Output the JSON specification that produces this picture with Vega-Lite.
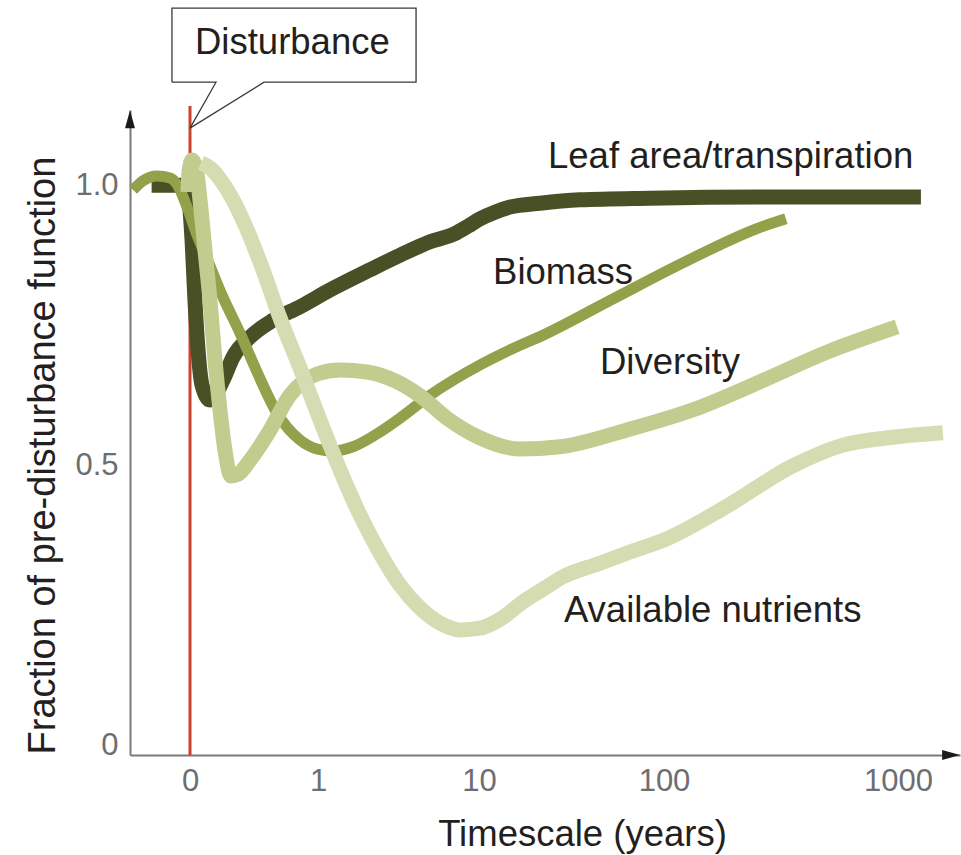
{
  "$schema": "https://vega.github.io/schema/vega-lite/v6.json",
  "width": 830,
  "height": 645,
  "autosize": {"type": "none"},
  "padding": {"left": 130, "top": 110, "right": 1, "bottom": 100},
  "background": "white",
  "config": {"view": {"stroke": null}, "font": "Liberation Sans"},
  "datasets": {
    "curves": [
      {"s": "leaf", "t": -0.3, "v": 0.996}, {"s": "leaf", "t": -0.078, "v": 0.996}, {"s": "leaf", "t": -0.016, "v": 0.979}, {"s": "leaf", "t": 0.016, "v": 0.898}, {"s": "leaf", "t": 0.039, "v": 0.789}, {"s": "leaf", "t": 0.063, "v": 0.702}, {"s": "leaf", "t": 0.094, "v": 0.639}, {"s": "leaf", "t": 0.156, "v": 0.6125}, {"s": "leaf", "t": 0.258, "v": 0.648}, {"s": "leaf", "t": 0.336, "v": 0.689}, {"s": "leaf", "t": 0.469, "v": 0.725}, {"s": "leaf", "t": 0.648, "v": 0.755}, {"s": "leaf", "t": 0.859, "v": 0.779}, {"s": "leaf", "t": 1.075, "v": 0.809}, {"s": "leaf", "t": 1.323, "v": 0.845}, {"s": "leaf", "t": 1.509, "v": 0.871}, {"s": "leaf", "t": 1.696, "v": 0.895}, {"s": "leaf", "t": 1.845, "v": 0.909}, {"s": "leaf", "t": 1.932, "v": 0.923}, {"s": "leaf", "t": 2.005, "v": 0.936}, {"s": "leaf", "t": 2.086, "v": 0.948}, {"s": "leaf", "t": 2.168, "v": 0.957}, {"s": "leaf", "t": 2.33, "v": 0.964}, {"s": "leaf", "t": 2.546, "v": 0.97}, {"s": "leaf", "t": 2.924, "v": 0.973}, {"s": "leaf", "t": 3.41, "v": 0.975}, {"s": "leaf", "t": 4.098, "v": 0.975},
      {"s": "biomass", "t": -0.445, "v": 0.9875}, {"s": "biomass", "t": -0.367, "v": 1.004}, {"s": "biomass", "t": -0.258, "v": 1.0125}, {"s": "biomass", "t": -0.156, "v": 1.009}, {"s": "biomass", "t": -0.094, "v": 0.995}, {"s": "biomass", "t": -0.023, "v": 0.957}, {"s": "biomass", "t": 0.055, "v": 0.907}, {"s": "biomass", "t": 0.156, "v": 0.852}, {"s": "biomass", "t": 0.25, "v": 0.8}, {"s": "biomass", "t": 0.391, "v": 0.732}, {"s": "biomass", "t": 0.523, "v": 0.663}, {"s": "biomass", "t": 0.68, "v": 0.589}, {"s": "biomass", "t": 0.859, "v": 0.541}, {"s": "biomass", "t": 0.992, "v": 0.525}, {"s": "biomass", "t": 1.093, "v": 0.521}, {"s": "biomass", "t": 1.217, "v": 0.529}, {"s": "biomass", "t": 1.366, "v": 0.552}, {"s": "biomass", "t": 1.509, "v": 0.58}, {"s": "biomass", "t": 1.696, "v": 0.621}, {"s": "biomass", "t": 2.005, "v": 0.675}, {"s": "biomass", "t": 2.168, "v": 0.702}, {"s": "biomass", "t": 2.351, "v": 0.729}, {"s": "biomass", "t": 2.735, "v": 0.795}, {"s": "biomass", "t": 3.098, "v": 0.861}, {"s": "biomass", "t": 3.406, "v": 0.92}, {"s": "biomass", "t": 3.521, "v": 0.936},
      {"s": "diversity", "t": -0.016, "v": 0.984}, {"s": "diversity", "t": -0.008, "v": 1.02}, {"s": "diversity", "t": 0.016, "v": 1.041}, {"s": "diversity", "t": 0.047, "v": 1.027}, {"s": "diversity", "t": 0.078, "v": 0.97}, {"s": "diversity", "t": 0.117, "v": 0.88}, {"s": "diversity", "t": 0.156, "v": 0.791}, {"s": "diversity", "t": 0.195, "v": 0.684}, {"s": "diversity", "t": 0.234, "v": 0.595}, {"s": "diversity", "t": 0.273, "v": 0.523}, {"s": "diversity", "t": 0.32, "v": 0.477}, {"s": "diversity", "t": 0.375, "v": 0.48}, {"s": "diversity", "t": 0.469, "v": 0.505}, {"s": "diversity", "t": 0.602, "v": 0.55}, {"s": "diversity", "t": 0.781, "v": 0.621}, {"s": "diversity", "t": 0.992, "v": 0.659}, {"s": "diversity", "t": 1.137, "v": 0.666}, {"s": "diversity", "t": 1.304, "v": 0.6625}, {"s": "diversity", "t": 1.491, "v": 0.645}, {"s": "diversity", "t": 1.634, "v": 0.62}, {"s": "diversity", "t": 1.801, "v": 0.58}, {"s": "diversity", "t": 2.005, "v": 0.545}, {"s": "diversity", "t": 2.222, "v": 0.525}, {"s": "diversity", "t": 2.438, "v": 0.529}, {"s": "diversity", "t": 2.8, "v": 0.559}, {"s": "diversity", "t": 3.124, "v": 0.595}, {"s": "diversity", "t": 3.41, "v": 0.645}, {"s": "diversity", "t": 3.697, "v": 0.698}, {"s": "diversity", "t": 3.996, "v": 0.743},
      {"s": "nutrients", "t": 0.086, "v": 1.036}, {"s": "nutrients", "t": 0.156, "v": 1.027}, {"s": "nutrients", "t": 0.25, "v": 1.002}, {"s": "nutrients", "t": 0.336, "v": 0.97}, {"s": "nutrients", "t": 0.43, "v": 0.925}, {"s": "nutrients", "t": 0.57, "v": 0.845}, {"s": "nutrients", "t": 0.703, "v": 0.759}, {"s": "nutrients", "t": 0.859, "v": 0.67}, {"s": "nutrients", "t": 1.012, "v": 0.577}, {"s": "nutrients", "t": 1.137, "v": 0.4875}, {"s": "nutrients", "t": 1.261, "v": 0.407}, {"s": "nutrients", "t": 1.385, "v": 0.339}, {"s": "nutrients", "t": 1.509, "v": 0.282}, {"s": "nutrients", "t": 1.634, "v": 0.241}, {"s": "nutrients", "t": 1.758, "v": 0.214}, {"s": "nutrients", "t": 1.882, "v": 0.202}, {"s": "nutrients", "t": 2.005, "v": 0.205}, {"s": "nutrients", "t": 2.114, "v": 0.221}, {"s": "nutrients", "t": 2.238, "v": 0.252}, {"s": "nutrients", "t": 2.357, "v": 0.277}, {"s": "nutrients", "t": 2.449, "v": 0.296}, {"s": "nutrients", "t": 2.654, "v": 0.321}, {"s": "nutrients", "t": 2.816, "v": 0.341}, {"s": "nutrients", "t": 3.009, "v": 0.364}, {"s": "nutrients", "t": 3.269, "v": 0.423}, {"s": "nutrients", "t": 3.551, "v": 0.495}, {"s": "nutrients", "t": 3.765, "v": 0.532}, {"s": "nutrients", "t": 3.979, "v": 0.546}, {"s": "nutrients", "t": 4.192, "v": 0.554}
    ],
    "labels": [
      {"label": "Leaf area/transpiration", "t": 2.373, "v": 1.027},
      {"label": "Biomass", "t": 2.076, "v": 0.82},
      {"label": "Diversity", "t": 2.654, "v": 0.659},
      {"label": "Available nutrients", "t": 2.459, "v": 0.216},
      {"label": "Disturbance", "t": 0.039, "v": 1.23}
    ],
    "callout": [
      {"i": 0, "t": -0.141, "v": 1.18}, {"i": 1, "t": -0.141, "v": 1.3125}, {"i": 2, "t": 1.609, "v": 1.3125}, {"i": 3, "t": 1.609, "v": 1.18}, {"i": 4, "t": 0.578, "v": 1.18}, {"i": 5, "t": 0, "v": 1.098}, {"i": 6, "t": 0.203, "v": 1.18}, {"i": 7, "t": -0.141, "v": 1.18}
    ],
    "arrows": [
      {"dir": "right", "t": 4.227, "v": -0.0214},
      {"dir": "up", "t": -0.469, "v": 1.114}
    ],
    "disturbance": [{"t": 0, "v": -0.0214, "v2": 1.1375}]
  },
  "encoding": {
    "x": {
      "field": "t", "type": "quantitative",
      "scale": {"domain": [-0.469, 0, 1, 2, 3, 4, 4.265], "range": [0, 60, 188, 349, 534, 768, 830], "zero": false, "nice": false},
      "axis": {
        "values": [0, 1, 2, 3, 4],
        "labelExpr": "datum.value < 1 ? '0' : format(pow(10, datum.value - 1), 'd')",
        "grid": false, "ticks": false, "domain": true, "domainColor": "#7a7a7a", "domainWidth": 2,
        "labelFont": "Liberation Sans", "labelFontSize": 31, "labelColor": "#6d6e71", "labelPadding": 35, "labelBaseline": "alphabetic", "labelFlush": false, "labelOverlap": false,
        "title": "Timescale (years)", "titleFont": "Liberation Sans", "titleFontSize": 36.5, "titleFontWeight": "normal", "titleColor": "#231f20",
        "titleX": 452, "titleY": 90, "titleBaseline": "alphabetic", "titleAlign": "center"
      }
    },
    "y": {
      "field": "v", "type": "quantitative",
      "scale": {"domain": [-0.0214, 1.1304], "zero": false, "nice": false},
      "axis": {
        "values": [0, 0.5, 1],
        "labelExpr": "datum.value == 0 ? '0' : format(datum.value, '.1f')",
        "grid": false, "ticks": false, "domain": true, "domainColor": "#7a7a7a", "domainWidth": 2,
        "labelFont": "Liberation Sans", "labelFontSize": 31, "labelColor": "#6d6e71", "labelPadding": 12, "labelBaseline": "alphabetic", "labelOffset": 11, "labelFlush": false, "labelOverlap": false,
        "title": "Fraction of pre-disturbance function", "titleFont": "Liberation Sans", "titleFontSize": 38, "titleFontWeight": "normal", "titleColor": "#231f20",
        "titleX": -76, "titleY": 345, "titleBaseline": "alphabetic", "titleAlign": "center", "titleAngle": 270
      }
    }
  },
  "layer": [
    {
      "data": {"name": "disturbance"},
      "mark": {"type": "rule", "color": "#c9432f", "strokeWidth": 3, "clip": false},
      "encoding": {"y2": {"field": "v2"}}
    },
    {
      "data": {"name": "curves"},
      "transform": [{"filter": "datum.s == 'leaf'"}],
      "mark": {"type": "line", "color": "#4a5026", "strokeWidth": 15, "interpolate": "monotone", "strokeCap": "butt", "strokeJoin": "round", "clip": false}
    },
    {
      "data": {"name": "curves"},
      "transform": [{"filter": "datum.s == 'biomass'"}],
      "mark": {"type": "line", "color": "#94a04a", "strokeWidth": 11, "interpolate": "monotone", "strokeCap": "butt", "strokeJoin": "round", "clip": false}
    },
    {
      "data": {"name": "curves"},
      "transform": [{"filter": "datum.s == 'diversity'"}],
      "mark": {"type": "line", "color": "#c3cc8f", "strokeWidth": 15, "interpolate": "monotone", "strokeCap": "butt", "strokeJoin": "round", "clip": false}
    },
    {
      "data": {"name": "curves"},
      "transform": [{"filter": "datum.s == 'nutrients'"}],
      "mark": {"type": "line", "color": "#d5dcb2", "strokeWidth": 15, "interpolate": "monotone", "strokeCap": "butt", "strokeJoin": "round", "clip": false}
    },
    {
      "data": {"name": "callout"},
      "mark": {"type": "line", "color": "#3a3a3a", "strokeWidth": 1.3, "interpolate": "linear", "clip": false},
      "encoding": {"order": {"field": "i", "type": "quantitative"}}
    },
    {
      "data": {"name": "arrows"},
      "mark": {"type": "point", "filled": true, "size": 324, "color": "#1a1a1a", "opacity": 1, "strokeWidth": 0, "clip": false},
      "encoding": {
        "shape": {"field": "dir", "type": "nominal", "scale": {"domain": ["right", "up"], "range": ["M-1,-0.55L1,0L-1,0.55Z", "M-0.55,1L0,-1L0.55,1Z"]}, "legend": null}
      }
    },
    {
      "data": {"name": "labels"},
      "mark": {"type": "text", "align": "left", "baseline": "alphabetic", "font": "Liberation Sans", "fontSize": 36.5, "color": "#231f20", "clip": false},
      "encoding": {"text": {"field": "label", "type": "nominal"}}
    }
  ]
}
